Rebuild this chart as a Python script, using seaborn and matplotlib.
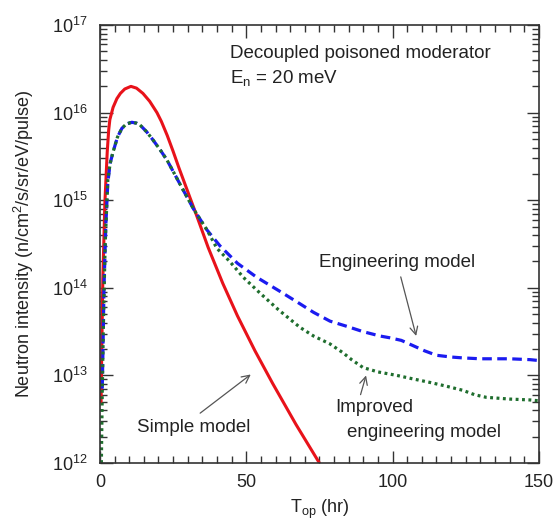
import matplotlib

matplotlib.use("Agg")

import matplotlib.pyplot as plt
import numpy as np
import pandas as pd
import seaborn as sns
from matplotlib.ticker import LogLocator, MultipleLocator, NullFormatter

# time of flight (hr) and log10 intensity
simple_t = [0.4, 0.6, 1.0, 1.7, 2.5, 3.0, 3.4, 4.5, 5.8, 7.0, 8.5, 10.6, 12.5, 14.7,
            17.0, 19.5, 21.0, 23.0, 25.0, 27.0, 30.0, 33.0, 37.0, 42.0, 47.0,
            53.0, 59.0, 67.0, 75.0]
simple_log = [12.7, 13.2, 14.1, 14.97, 15.55, 15.8, 15.92, 16.06, 16.16, 16.22,
              16.27, 16.30, 16.28, 16.22, 16.13, 16.0, 15.90, 15.74, 15.56, 15.37,
              15.10, 14.83, 14.46, 14.05, 13.68, 13.28, 12.91, 12.44, 12.0]

eng_t = [0.8, 1.0, 1.4, 2.0, 2.7, 3.5, 4.4, 6.0, 7.5, 9.0, 10.9, 12.5, 13.7, 16.0,
         18.1, 20.5, 22.9, 25.5, 28.4, 32.0, 36.6, 41.0, 47.0, 53.6, 61.5, 67.3,
         73.0, 78.6, 84.4, 89.9, 95.7, 99.0, 103.0, 107.0, 111.0, 115.0, 120.0,
         124.0, 130.0, 140.0, 147.0, 150.0]
eng_log = [12.85, 13.2, 14.0, 14.7, 15.2, 15.42, 15.54, 15.72, 15.82, 15.87, 15.89,
           15.88, 15.86, 15.78, 15.69, 15.58, 15.46, 15.30, 15.12, 14.90, 14.66,
           14.48, 14.28, 14.12, 13.96, 13.84, 13.72, 13.62, 13.56, 13.50, 13.45,
           13.43, 13.40, 13.34, 13.28, 13.23, 13.21, 13.20, 13.19, 13.19, 13.18,
           13.17]

imp_t = [0.5, 0.8, 1.2, 1.8, 2.7, 3.5, 4.4, 6.0, 7.5, 9.0, 10.9, 12.5, 13.7, 16.0,
         18.1, 20.5, 22.9, 25.5, 28.4, 32.0, 36.6, 40.0, 44.4, 49.0, 54.7, 61.0,
         68.3, 73.0, 78.6, 83.0, 86.0, 89.9, 95.0, 101.5, 107.0, 112.8, 118.0,
         124.0, 128.0, 132.0, 140.0, 147.0, 150.0]
imp_log = [12.0, 12.8, 13.6, 14.5, 15.23, 15.42, 15.54, 15.72, 15.82, 15.87, 15.89,
           15.88, 15.86, 15.78, 15.69, 15.58, 15.46, 15.30, 15.12, 14.90, 14.66,
           14.45, 14.30, 14.12, 13.94, 13.75, 13.55, 13.45, 13.36, 13.26, 13.18,
           13.09, 13.04, 13.00, 12.96, 12.92, 12.88, 12.83, 12.78, 12.75, 12.73,
           12.72, 12.71]

RED = "#e8121a"
BLUE = "#1b1bf0"
GREEN = "#1f6e2e"

sns.set_style("ticks")
plt.rcParams["font.family"] = ["Liberation Sans", "DejaVu Sans"]
plt.rcParams["mathtext.fontset"] = "custom"
plt.rcParams["mathtext.rm"] = "Liberation Sans"
plt.rcParams["mathtext.it"] = "Liberation Sans:italic"

fig, ax = plt.subplots(figsize=(5.55, 5.22), dpi=100)
fig.subplots_adjust(left=0.180, right=0.971, bottom=0.113, top=0.952)

simple = pd.DataFrame({"t": simple_t, "I": 10 ** np.array(simple_log)})
eng = pd.DataFrame({"t": eng_t, "I": 10 ** np.array(eng_log)})
imp = pd.DataFrame({"t": imp_t, "I": 10 ** np.array(imp_log)})

sns.lineplot(data=simple, x="t", y="I", ax=ax, color=RED, lw=2.2, sort=False)
sns.lineplot(data=eng, x="t", y="I", ax=ax, color=BLUE, lw=2.3, sort=False,
             linestyle=(0, (3.0, 1.7)))
sns.lineplot(data=imp, x="t", y="I", ax=ax, color=GREEN, lw=2.3, sort=False,
             linestyle=(0, (0.9, 1.1)))

ax.set_yscale("log")
ax.set_xlim(0, 150)
ax.set_ylim(1e12, 1e17)
ax.set_xticks([0, 50, 100, 150])
ax.xaxis.set_minor_locator(MultipleLocator(5))
ax.yaxis.set_major_locator(LogLocator(base=10, numticks=10))
ax.yaxis.set_minor_locator(LogLocator(base=10, subs=np.arange(2, 10), numticks=10))
ax.yaxis.set_minor_formatter(NullFormatter())
ax.tick_params(which="both", direction="in", top=True, right=True, colors="#333333",
               labelcolor="#222222", labelsize=13)
ax.tick_params(which="major", length=9, width=1.0)
ax.tick_params(which="minor", length=5, width=1.0)
ax.tick_params(axis="y", which="major", pad=9)
ax.tick_params(axis="x", which="major", pad=8)
for s in ax.spines.values():
    s.set_color("#333333")
    s.set_linewidth(1.2)

ax.set_xlabel(r"T$_\mathrm{op}$ (hr)", fontsize=13, color="#222222", labelpad=5)
ax.set_ylabel(r"Neutron intensity (n/cm$^2$/s/sr/eV/pulse)", fontsize=13,
              color="#222222", labelpad=11)

txt = dict(fontsize=13.5, color="#222222")
ax.text(44.4, 10 ** 16.68, "Decoupled poisoned moderator", va="center", **txt)
ax.text(44.4, 10 ** 16.40, r"E$_\mathrm{n}$ = 20 meV", va="center", **txt)

arrow = dict(arrowstyle="->", color="#555555", lw=0.9, mutation_scale=14)
ax.annotate("Engineering model", xy=(108.3, 10 ** 13.42), xytext=(101.5, 10 ** 14.29),
            ha="center", va="center", arrowprops=arrow, **txt)
ax.annotate("", xy=(91.2, 10 ** 13.03), xytext=(88.8, 10 ** 12.75), arrowprops=arrow)
ax.text(80.3, 10 ** 12.63, "Improved", va="center", **txt)
ax.text(84.4, 10 ** 12.35, "engineering model", va="center", **txt)
ax.annotate("", xy=(52.3, 10 ** 13.03), xytext=(33.5, 10 ** 12.55), arrowprops=arrow)
ax.text(12.6, 10 ** 12.40, "Simple model", va="center", **txt)

fig.savefig("out.png", dpi=100)
